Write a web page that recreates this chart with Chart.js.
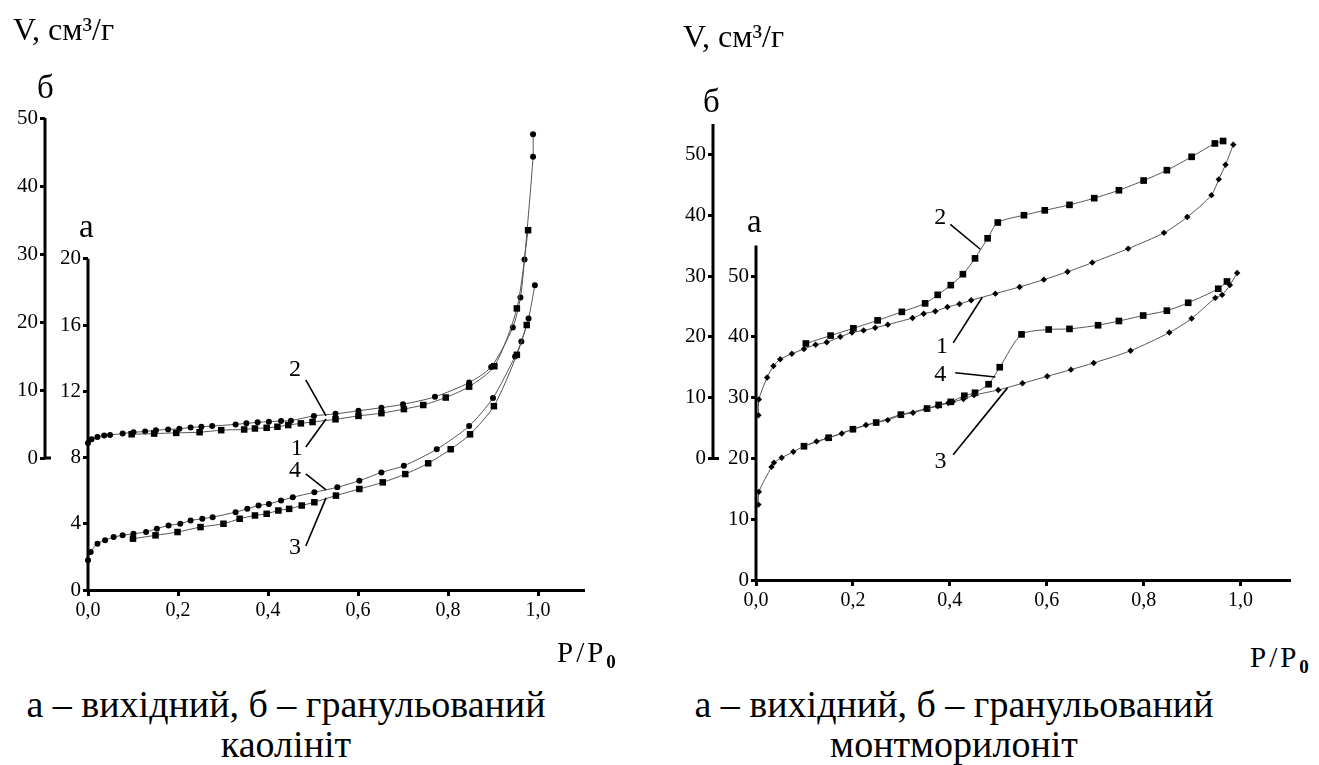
<!DOCTYPE html>
<html>
<head>
<meta charset="utf-8">
<script src="https://cdn.jsdelivr.net/npm/chart.js@4.4.1/dist/chart.umd.min.js"></script>
<style>
  body { margin: 0; background: #fff; width: 1319px; height: 765px; overflow: hidden; position: relative; font-family: "Liberation Serif", "Times New Roman", Tinos, "DejaVu Serif", serif; color: #000; }
  canvas { position: absolute; top: 0; }
  .t { position: absolute; white-space: nowrap; line-height: 1; }
  .pp { font-size: 29px; letter-spacing: 3px; }
  .pp b { font-size: 19px; position: relative; top: 6px; letter-spacing: 0; }
  .cap { position: absolute; width: 640px; text-align: center; font-size: 38px; line-height: 40px; }
</style>
</head>
<body>
<canvas id="kaolin" width="650" height="640" style="left:0"></canvas>
<canvas id="mont" width="663" height="640" style="left:656px"></canvas>

<div class="t" style="left:13px;top:13px;font-size:32px">V, см³/г</div>
<div class="t" style="left:37px;top:71px;font-size:33px">б</div>
<div class="t" style="left:79px;top:210px;font-size:33px">а</div>
<div class="t pp" style="left:557px;top:638px">P/P<b>0</b></div>
<div class="cap" style="left:-34px;top:684px">а – вихідний, б – гранульований<br>каолініт</div>

<div class="t" style="left:683px;top:20px;font-size:32px">V, см³/г</div>
<div class="t" style="left:703px;top:85px;font-size:33px">б</div>
<div class="t" style="left:747px;top:205px;font-size:33px">а</div>
<div class="t pp" style="left:1250px;top:643px">P/P<b>0</b></div>
<div class="cap" style="left:634px;top:684px">а – вихідний, б – гранульований<br>монтморилоніт</div>

<script>
// --- каолініт (ліва панель) ---
// криві 1, 2: гранульований (вісь б); криві 3, 4: вихідний (вісь а)
const kaolin1X = [0.097, 0.147, 0.196, 0.248, 0.296, 0.347, 0.371, 0.397, 0.421, 0.445, 0.473, 0.499, 0.55, 0.601, 0.652, 0.702, 0.745, 0.795, 0.847, 0.903, 0.953, 0.978];
const kaolin1Y = [3.5, 3.6, 3.7, 3.8, 4.1, 4.2, 4.35, 4.45, 4.6, 4.85, 5.1, 5.3, 5.7, 6.2, 6.6, 7.2, 7.8, 8.9, 10.5, 13.5, 22.0, 33.5];
const kaolin2X = [0.0, 0.008, 0.021, 0.036, 0.049, 0.077, 0.101, 0.127, 0.151, 0.178, 0.203, 0.228, 0.252, 0.276, 0.328, 0.352, 0.377, 0.402, 0.429, 0.451, 0.502, 0.55, 0.601, 0.652, 0.70, 0.771, 0.847, 0.896, 0.944, 0.961, 0.970, 0.989, 0.989];
const kaolin2Y = [2.2, 2.75, 3.1, 3.3, 3.4, 3.6, 3.8, 3.9, 4.1, 4.2, 4.3, 4.5, 4.6, 4.7, 4.95, 5.1, 5.25, 5.35, 5.45, 5.5, 6.2, 6.5, 6.95, 7.4, 7.9, 9.0, 11.1, 13.4, 19.2, 23.6, 29.2, 44.3, 47.6];
const kaolin3X = [0.10, 0.15, 0.199, 0.25, 0.301, 0.337, 0.371, 0.397, 0.423, 0.447, 0.475, 0.503, 0.551, 0.603, 0.655, 0.705, 0.756, 0.806, 0.849, 0.902, 0.953, 0.975];
const kaolin3Y = [3.1, 3.3, 3.5, 3.8, 4.0, 4.3, 4.5, 4.6, 4.8, 4.9, 5.1, 5.3, 5.7, 6.1, 6.5, 7.0, 7.65, 8.5, 9.4, 11.1, 14.2, 16.0];
const kaolin4X = [0.0, 0.006, 0.021, 0.038, 0.057, 0.077, 0.101, 0.129, 0.153, 0.179, 0.205, 0.228, 0.254, 0.277, 0.328, 0.354, 0.379, 0.402, 0.429, 0.455, 0.503, 0.554, 0.603, 0.652, 0.702, 0.775, 0.847, 0.90, 0.949, 0.963, 0.979, 0.993];
const kaolin4Y = [1.8, 2.3, 2.8, 3.0, 3.2, 3.3, 3.4, 3.5, 3.7, 3.9, 4.0, 4.2, 4.3, 4.4, 4.7, 4.9, 5.1, 5.2, 5.4, 5.6, 5.9, 6.2, 6.6, 7.1, 7.5, 8.5, 9.9, 11.6, 14.1, 15.0, 16.4, 18.4];

// --- монтморилоніт (права панель) ---
const mont1X = [0.005, 0.006, 0.023, 0.036, 0.05, 0.074, 0.099, 0.123, 0.146, 0.174, 0.198, 0.222, 0.246, 0.272, 0.323, 0.346, 0.37, 0.395, 0.42, 0.444, 0.494, 0.544, 0.594, 0.643, 0.694, 0.768, 0.842, 0.89, 0.94, 0.955, 0.969, 0.985];
const mont1Y = [7.1, 9.7, 13.3, 15.2, 16.3, 17.2, 18.0, 18.7, 19.1, 20.0, 20.7, 21.05, 21.5, 22.0, 23.1, 23.8, 24.2, 24.9, 25.4, 26.0, 27.1, 28.2, 29.4, 30.7, 32.2, 34.5, 37.1, 39.7, 43.3, 45.9, 48.3, 51.6];
const mont2X = [0.103, 0.154, 0.201, 0.251, 0.301, 0.349, 0.375, 0.402, 0.427, 0.452, 0.478, 0.499, 0.553, 0.596, 0.647, 0.698, 0.749, 0.80, 0.848, 0.899, 0.947, 0.964];
const mont2Y = [18.9, 20.2, 21.4, 22.7, 24.1, 25.5, 26.9, 28.5, 30.3, 32.9, 36.2, 38.8, 40.0, 40.8, 41.7, 42.8, 44.1, 45.7, 47.4, 49.6, 51.8, 52.2];
const mont3X = [0.005, 0.006, 0.032, 0.037, 0.053, 0.077, 0.099, 0.125, 0.147, 0.177, 0.20, 0.227, 0.248, 0.272, 0.298, 0.324, 0.351, 0.375, 0.397, 0.406, 0.428, 0.45, 0.50, 0.55, 0.601, 0.65, 0.697, 0.773, 0.853, 0.899, 0.948, 0.962, 0.978, 0.993];
const mont3Y = [12.4, 14.5, 18.6, 19.3, 20.1, 21.1, 22.0, 22.8, 23.3, 24.1, 24.8, 25.5, 25.9, 26.3, 27.1, 27.5, 28.1, 28.6, 29.1, 29.3, 29.75, 30.4, 31.25, 32.35, 33.5, 34.6, 35.7, 37.7, 40.7, 43.0, 46.4, 46.9, 48.5, 50.5];
const mont4X = [0.099, 0.15, 0.20, 0.248, 0.299, 0.353, 0.377, 0.402, 0.43, 0.452, 0.48, 0.503, 0.548, 0.604, 0.647, 0.706, 0.749, 0.799, 0.848, 0.892, 0.954, 0.972];
const mont4Y = [22.0, 23.4, 24.8, 25.9, 27.2, 28.2, 28.8, 29.3, 30.3, 30.8, 32.2, 35.0, 40.4, 41.2, 41.3, 41.9, 42.6, 43.5, 44.3, 45.6, 47.9, 49.1];

// тики осей
const xTicks = [0, 0.2, 0.4, 0.6, 0.8, 1.0];
const kaolinTicksA = [0, 4, 8, 12, 16, 20];
const kaolinTicksB = [0, 10, 20, 30, 40, 50];
const montTicksA = [0, 10, 20, 30, 40, 50];
const montTicksB = [0, 10, 20, 30, 40, 50];

const serif = '"Liberation Serif", "Times New Roman", Tinos, "DejaVu Serif", serif';
Chart.defaults.font.family = serif;
Chart.defaults.color = '#000';

function pts(xs, ys) {
    return xs.map((x, i) => ({ x: x, y: ys[i] }));
}

function series(xs, ys, axis, style, radius) {
    return {
        data: pts(xs, ys),
        yAxisID: axis,
        showLine: true,
        tension: 0.25,
        borderColor: '#555',
        borderWidth: 1,
        pointStyle: style,
        pointRadius: radius,
        pointBackgroundColor: '#000',
        pointBorderColor: '#000',
        pointBorderWidth: 0,
        clip: false
    };
}

// вертикальні лінії осей тільки на своєму діапазоні
const axisLines = {
    id: 'axisLines',
    beforeDatasetsDraw(chart, args, opts) {
        const ctx = chart.ctx;
        ctx.save();
        ctx.strokeStyle = '#000';
        ctx.lineWidth = 3;
        opts.lines.forEach(l => {
            const s = chart.scales[l.scale];
            const x = s.right;
            const y0 = s.getPixelForValue(l.from);
            ctx.beginPath();
            ctx.moveTo(x, y0 + 1.5);
            ctx.lineTo(x, s.getPixelForValue(l.to));
            if (l.foot) {
                ctx.moveTo(x - 1.5, y0);
                ctx.lineTo(x + 6, y0);
            }
            ctx.stroke();
        });
        ctx.restore();
    }
};

// номери кривих з виносками
const curveLabels = {
    id: 'curveLabels',
    afterDatasetsDraw(chart, args, opts) {
        const ctx = chart.ctx;
        const sx = chart.scales.x, sy = chart.scales.a;
        ctx.save();
        ctx.font = '24px ' + serif;
        ctx.fillStyle = '#000';
        ctx.strokeStyle = '#000';
        ctx.lineWidth = 1.6;
        ctx.textAlign = 'center';
        ctx.textBaseline = 'middle';
        opts.items.forEach(it => {
            ctx.fillText(it.text, sx.getPixelForValue(it.x), sy.getPixelForValue(it.y));
            ctx.beginPath();
            ctx.moveTo(sx.getPixelForValue(it.from[0]), sy.getPixelForValue(it.from[1]));
            ctx.lineTo(sx.getPixelForValue(it.to[0]), sy.getPixelForValue(it.to[1]));
            ctx.stroke();
        });
        ctx.restore();
    }
};

function yScale(min, max, ticks, weight, width) {
    return {
        type: 'linear',
        position: 'left',
        weight: weight,
        min: min,
        max: max,
        afterBuildTicks: s => { s.ticks = ticks.map(v => ({ value: v })); },
        afterFit: s => { s.width = width; },
        border: { display: false },
        grid: { drawOnChartArea: false, drawTicks: true, tickLength: 5, lineWidth: 3, color: '#000' },
        ticks: { font: { size: 21 }, padding: 2, color: '#000' }
    };
}

function makePanel(id, datasets, sc, pad, xHeight, lines, labels) {
    return new Chart(document.getElementById(id), {
        type: 'scatter',
        data: { datasets: datasets },
        plugins: [axisLines, curveLabels],
        options: {
            responsive: false,
            animation: false,
            devicePixelRatio: 1,
            layout: { padding: pad },
            plugins: {
                legend: { display: false },
                tooltip: { enabled: false },
                axisLines: { lines: lines },
                curveLabels: { items: labels }
            },
            scales: {
                x: {
                    type: 'linear',
                    min: 0,
                    max: 1.1,
                    afterBuildTicks: s => { s.ticks = xTicks.map(v => ({ value: v })); },
                    afterFit: s => { s.height = xHeight; },
                    border: { display: true, width: 3, color: '#000' },
                    grid: { drawOnChartArea: false, drawTicks: true, tickLength: 6, lineWidth: 3, color: '#000' },
                    ticks: {
                        font: { size: 20 },
                        padding: 3,
                        color: '#000',
                        maxRotation: 0,
                        autoSkip: false,
                        callback: v => v.toFixed(1).replace('.', ',')
                    }
                },
                a: sc.a,
                b: sc.b
            }
        }
    });
}

makePanel('kaolin', [
    series(kaolin1X, kaolin1Y, 'b', 'rect', 4.6),
    series(kaolin2X, kaolin2Y, 'b', 'circle', 3),
    series(kaolin3X, kaolin3Y, 'a', 'rect', 4.6),
    series(kaolin4X, kaolin4Y, 'a', 'circle', 3)
], {
    a: yScale(0, 28.5, kaolinTicksA, 0, 43),
    b: yScale(-19.4, 50, kaolinTicksB, 1, 45)
}, { left: 0, right: 67, top: 118, bottom: 0 }, 50,
[
    { scale: 'a', from: 0, to: 20 },
    { scale: 'b', from: 0, to: 50, foot: true }
],
[
    { text: '2', x: 0.46, y: 13.3, from: [0.484, 12.69], to: [0.529, 10.51] },
    { text: '1', x: 0.464, y: 8.52, from: [0.484, 8.64], to: [0.529, 10.33] },
    { text: '4', x: 0.46, y: 7.19, from: [0.484, 7.01], to: [0.529, 6.04] },
    { text: '3', x: 0.46, y: 2.54, from: [0.484, 2.66], to: [0.529, 5.56] }
]);

makePanel('mont', [
    series(mont1X, mont1Y, 'b', 'rectRot', 3.2),
    series(mont2X, mont2Y, 'b', 'rect', 4.7),
    series(mont3X, mont3Y, 'a', 'rectRot', 3.2),
    series(mont4X, mont4Y, 'a', 'rect', 4.7)
], {
    a: yScale(0, 75, montTicksA, 0, 43),
    b: yScale(-20, 55, montTicksB, 1, 57)
}, { left: 0, right: 30, top: 124, bottom: 0 }, 60,
[
    { scale: 'a', from: 0, to: 55 },
    { scale: 'b', from: 0, to: 55, foot: true }
],
[
    { text: '2', x: 0.38, y: 59.6, from: [0.401, 58.5], to: [0.463, 54.4] },
    { text: '1', x: 0.384, y: 38.4, from: [0.407, 39.0], to: [0.467, 46.5] },
    { text: '4', x: 0.38, y: 33.8, from: [0.411, 34.1], to: [0.494, 33.4] },
    { text: '3', x: 0.381, y: 19.4, from: [0.407, 20.6], to: [0.519, 31.6] }
]);
</script>
</body>
</html>
